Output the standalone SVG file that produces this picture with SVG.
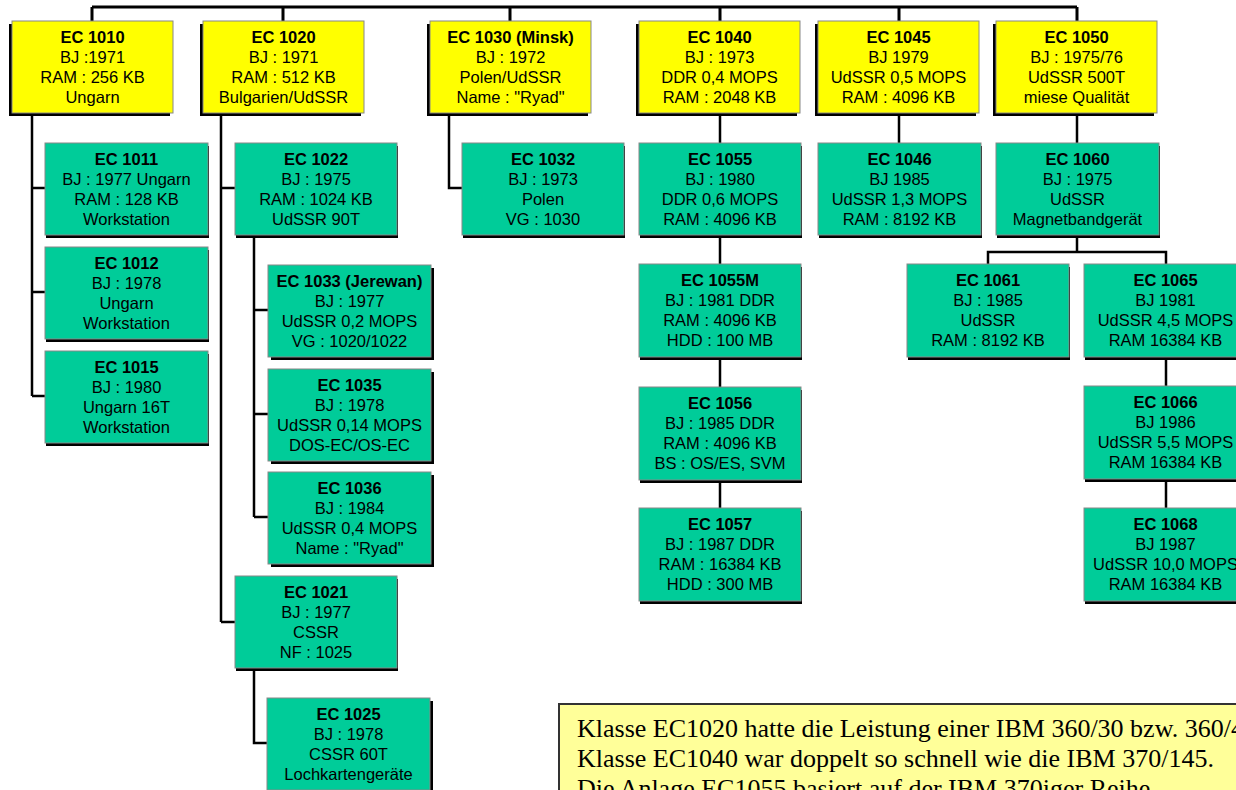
<svg xmlns="http://www.w3.org/2000/svg" width="1236" height="790" viewBox="0 0 1236 790">
<style>
.y{fill:#FFFF00;stroke:#888;stroke-width:1}
.g{fill:#00CC99;stroke:#888;stroke-width:1}
.s{fill:#000}
.t{font-family:"Liberation Sans",Arial,sans-serif;font-size:16.5px;fill:#000;text-anchor:middle}
.b{font-weight:bold}
.c{fill:none;stroke:#000;stroke-width:2.5}
.ct{fill:none;stroke:#000;stroke-width:3}
.note{fill:#FFFF99;stroke:#333;stroke-width:2}
.nt{font-family:"Liberation Serif","Times New Roman",serif;font-size:26px;fill:#000}
</style>
<g id="connectors">
<path class="ct" d="M92,7H1077M92,7V21M283,7V21M510,7V21M720,7V21M899,7V21M1077,7V21"/>
<path class="c" d="M32,113V396M32,188H45M32,292H45M32,396H45"/>
<path class="c" d="M221,113V622M221,188H235M221,622H235"/>
<path class="c" d="M254,235V517M254,310H268M254,414H268M254,517H268"/>
<path class="c" d="M254,669V743H267"/>
<path class="c" d="M449,113V188H462"/>
<path class="c" d="M720,113V143M720,235V264M720,357V387M720,480V508"/>
<path class="c" d="M899,113V143M1077,113V143"/>
<path class="c" d="M1077,235V252M988,264V252H1166V264"/>
<path class="c" d="M1166,357V386M1166,479V508"/>
</g>
<g id="ec1010"><rect class="s" x="9" y="24" width="161" height="92"/><rect class="y" x="12" y="21" width="161" height="92"/>
<text class="t" y="43"><tspan class="b" x="92.5">EC 1010</tspan><tspan x="92.5" dy="20">BJ :1971</tspan><tspan x="92.5" dy="20">RAM : 256 KB</tspan><tspan x="92.5" dy="20">Ungarn</tspan></text></g>
<g id="ec1020"><rect class="s" x="200" y="24" width="161" height="92"/><rect class="y" x="203" y="21" width="161" height="92"/>
<text class="t" y="43"><tspan class="b" x="283.5">EC 1020</tspan><tspan x="283.5" dy="20">BJ : 1971</tspan><tspan x="283.5" dy="20">RAM : 512 KB</tspan><tspan x="283.5" dy="20">Bulgarien/UdSSR</tspan></text></g>
<g id="ec1030"><rect class="s" x="427" y="24" width="161" height="92"/><rect class="y" x="430" y="21" width="161" height="92"/>
<text class="t" y="43"><tspan class="b" x="510.5">EC 1030 (Minsk)</tspan><tspan x="510.5" dy="20">BJ : 1972</tspan><tspan x="510.5" dy="20">Polen/UdSSR</tspan><tspan x="510.5" dy="20">Name : "Ryad"</tspan></text></g>
<g id="ec1040"><rect class="s" x="636" y="24" width="161" height="92"/><rect class="y" x="639" y="21" width="161" height="92"/>
<text class="t" y="43"><tspan class="b" x="719.5">EC 1040</tspan><tspan x="719.5" dy="20">BJ : 1973</tspan><tspan x="719.5" dy="20">DDR 0,4 MOPS</tspan><tspan x="719.5" dy="20">RAM : 2048 KB</tspan></text></g>
<g id="ec1045"><rect class="s" x="815" y="24" width="161" height="92"/><rect class="y" x="818" y="21" width="161" height="92"/>
<text class="t" y="43"><tspan class="b" x="898.5">EC 1045</tspan><tspan x="898.5" dy="20">BJ 1979</tspan><tspan x="898.5" dy="20">UdSSR 0,5 MOPS</tspan><tspan x="898.5" dy="20">RAM : 4096 KB</tspan></text></g>
<g id="ec1050"><rect class="s" x="993" y="24" width="161" height="92"/><rect class="y" x="996" y="21" width="161" height="92"/>
<text class="t" y="43"><tspan class="b" x="1076.5">EC 1050</tspan><tspan x="1076.5" dy="20">BJ : 1975/76</tspan><tspan x="1076.5" dy="20">UdSSR 500T</tspan><tspan x="1076.5" dy="20">miese Qualität</tspan></text></g>
<g id="ec1011"><rect class="s" x="46" y="146" width="163" height="92"/><rect class="g" x="45" y="143" width="163" height="92"/>
<text class="t" y="165"><tspan class="b" x="126.5">EC 1011</tspan><tspan x="126.5" dy="20">BJ : 1977 Ungarn</tspan><tspan x="126.5" dy="20">RAM : 128 KB</tspan><tspan x="126.5" dy="20">Workstation</tspan></text></g>
<g id="ec1012"><rect class="s" x="46" y="250" width="163" height="92"/><rect class="g" x="45" y="247" width="163" height="92"/>
<text class="t" y="269"><tspan class="b" x="126.5">EC 1012</tspan><tspan x="126.5" dy="20">BJ : 1978</tspan><tspan x="126.5" dy="20">Ungarn</tspan><tspan x="126.5" dy="20">Workstation</tspan></text></g>
<g id="ec1015"><rect class="s" x="46" y="354" width="163" height="92"/><rect class="g" x="45" y="351" width="163" height="92"/>
<text class="t" y="373"><tspan class="b" x="126.5">EC 1015</tspan><tspan x="126.5" dy="20">BJ : 1980</tspan><tspan x="126.5" dy="20">Ungarn 16T</tspan><tspan x="126.5" dy="20">Workstation</tspan></text></g>
<g id="ec1022"><rect class="s" x="236" y="146" width="162" height="92"/><rect class="g" x="235" y="143" width="162" height="92"/>
<text class="t" y="165"><tspan class="b" x="316">EC 1022</tspan><tspan x="316" dy="20">BJ : 1975</tspan><tspan x="316" dy="20">RAM : 1024 KB</tspan><tspan x="316" dy="20">UdSSR 90T</tspan></text></g>
<g id="ec1033"><rect class="s" x="271" y="268" width="163" height="92"/><rect class="g" x="268" y="265" width="163" height="92"/>
<text class="t" y="287"><tspan class="b" x="349.5">EC 1033 (Jerewan)</tspan><tspan x="349.5" dy="20">BJ : 1977</tspan><tspan x="349.5" dy="20">UdSSR 0,2 MOPS</tspan><tspan x="349.5" dy="20">VG : 1020/1022</tspan></text></g>
<g id="ec1035"><rect class="s" x="271" y="372" width="163" height="92"/><rect class="g" x="268" y="369" width="163" height="92"/>
<text class="t" y="391"><tspan class="b" x="349.5">EC 1035</tspan><tspan x="349.5" dy="20">BJ : 1978</tspan><tspan x="349.5" dy="20">UdSSR 0,14 MOPS</tspan><tspan x="349.5" dy="20">DOS-EC/OS-EC</tspan></text></g>
<g id="ec1036"><rect class="s" x="271" y="475" width="163" height="92"/><rect class="g" x="268" y="472" width="163" height="92"/>
<text class="t" y="494"><tspan class="b" x="349.5">EC 1036</tspan><tspan x="349.5" dy="20">BJ : 1984</tspan><tspan x="349.5" dy="20">UdSSR 0,4 MOPS</tspan><tspan x="349.5" dy="20">Name : "Ryad"</tspan></text></g>
<g id="ec1021"><rect class="s" x="236" y="579" width="162" height="92"/><rect class="g" x="235" y="576" width="162" height="92"/>
<text class="t" y="598"><tspan class="b" x="316">EC 1021</tspan><tspan x="316" dy="20">BJ : 1977</tspan><tspan x="316" dy="20">CSSR</tspan><tspan x="316" dy="20">NF : 1025</tspan></text></g>
<g id="ec1025"><rect class="s" x="270" y="701" width="163" height="92"/><rect class="g" x="267" y="698" width="163" height="92"/>
<text class="t" y="720"><tspan class="b" x="348.5">EC 1025</tspan><tspan x="348.5" dy="20">BJ : 1978</tspan><tspan x="348.5" dy="20">CSSR 60T</tspan><tspan x="348.5" dy="20">Lochkartengeräte</tspan></text></g>
<g id="ec1032"><rect class="s" x="463" y="146" width="162" height="92"/><rect class="g" x="462" y="143" width="162" height="92"/>
<text class="t" y="165"><tspan class="b" x="543">EC 1032</tspan><tspan x="543" dy="20">BJ : 1973</tspan><tspan x="543" dy="20">Polen</tspan><tspan x="543" dy="20">VG : 1030</tspan></text></g>
<g id="ec1055"><rect class="s" x="640" y="146" width="162" height="92"/><rect class="g" x="639" y="143" width="162" height="92"/>
<text class="t" y="165"><tspan class="b" x="720">EC 1055</tspan><tspan x="720" dy="20">BJ : 1980</tspan><tspan x="720" dy="20">DDR 0,6 MOPS</tspan><tspan x="720" dy="20">RAM : 4096 KB</tspan></text></g>
<g id="ec1055m"><rect class="s" x="640" y="267" width="162" height="93"/><rect class="g" x="639" y="264" width="162" height="93"/>
<text class="t" y="286"><tspan class="b" x="720">EC 1055M</tspan><tspan x="720" dy="20">BJ : 1981 DDR</tspan><tspan x="720" dy="20">RAM : 4096 KB</tspan><tspan x="720" dy="20">HDD : 100 MB</tspan></text></g>
<g id="ec1056"><rect class="s" x="640" y="390" width="162" height="93"/><rect class="g" x="639" y="387" width="162" height="93"/>
<text class="t" y="409"><tspan class="b" x="720">EC 1056</tspan><tspan x="720" dy="20">BJ : 1985 DDR</tspan><tspan x="720" dy="20">RAM : 4096 KB</tspan><tspan x="720" dy="20">BS : OS/ES, SVM</tspan></text></g>
<g id="ec1057"><rect class="s" x="640" y="511" width="162" height="93"/><rect class="g" x="639" y="508" width="162" height="93"/>
<text class="t" y="530"><tspan class="b" x="720">EC 1057</tspan><tspan x="720" dy="20">BJ : 1987 DDR</tspan><tspan x="720" dy="20">RAM : 16384 KB</tspan><tspan x="720" dy="20">HDD : 300 MB</tspan></text></g>
<g id="ec1046"><rect class="s" x="819" y="146" width="163" height="92"/><rect class="g" x="818" y="143" width="163" height="92"/>
<text class="t" y="165"><tspan class="b" x="899.5">EC 1046</tspan><tspan x="899.5" dy="20">BJ 1985</tspan><tspan x="899.5" dy="20">UdSSR 1,3 MOPS</tspan><tspan x="899.5" dy="20">RAM : 8192 KB</tspan></text></g>
<g id="ec1060"><rect class="s" x="997" y="146" width="163" height="92"/><rect class="g" x="996" y="143" width="163" height="92"/>
<text class="t" y="165"><tspan class="b" x="1077.5">EC 1060</tspan><tspan x="1077.5" dy="20">BJ : 1975</tspan><tspan x="1077.5" dy="20">UdSSR</tspan><tspan x="1077.5" dy="20">Magnetbandgerät</tspan></text></g>
<g id="ec1061"><rect class="s" x="908" y="267" width="162" height="93"/><rect class="g" x="907" y="264" width="162" height="93"/>
<text class="t" y="286"><tspan class="b" x="988">EC 1061</tspan><tspan x="988" dy="20">BJ : 1985</tspan><tspan x="988" dy="20">UdSSR</tspan><tspan x="988" dy="20">RAM : 8192 KB</tspan></text></g>
<g id="ec1065"><rect class="s" x="1085" y="267" width="163" height="93"/><rect class="g" x="1084" y="264" width="163" height="93"/>
<text class="t" y="286"><tspan class="b" x="1165.5">EC 1065</tspan><tspan x="1165.5" dy="20">BJ 1981</tspan><tspan x="1165.5" dy="20">UdSSR 4,5 MOPS</tspan><tspan x="1165.5" dy="20">RAM 16384 KB</tspan></text></g>
<g id="ec1066"><rect class="s" x="1085" y="389" width="163" height="93"/><rect class="g" x="1084" y="386" width="163" height="93"/>
<text class="t" y="408"><tspan class="b" x="1165.5">EC 1066</tspan><tspan x="1165.5" dy="20">BJ 1986</tspan><tspan x="1165.5" dy="20">UdSSR 5,5 MOPS</tspan><tspan x="1165.5" dy="20">RAM 16384 KB</tspan></text></g>
<g id="ec1068"><rect class="s" x="1085" y="511" width="163" height="93"/><rect class="g" x="1084" y="508" width="163" height="93"/>
<text class="t" y="530"><tspan class="b" x="1165.5">EC 1068</tspan><tspan x="1165.5" dy="20">BJ 1987</tspan><tspan x="1165.5" dy="20">UdSSR 10,0 MOPS</tspan><tspan x="1165.5" dy="20">RAM 16384 KB</tspan></text></g>
<g id="note"><rect class="note" x="559" y="704" width="700" height="100"/>
<text class="nt" x="577" y="737">Klasse EC1020 hatte die Leistung einer IBM 360/30 bzw. 360/40.</text>
<text class="nt" x="577" y="767">Klasse EC1040 war doppelt so schnell wie die IBM 370/145.</text>
<text class="nt" x="577" y="797">Die Anlage EC1055 basiert auf der IBM 370iger Reihe.</text></g>
</svg>
